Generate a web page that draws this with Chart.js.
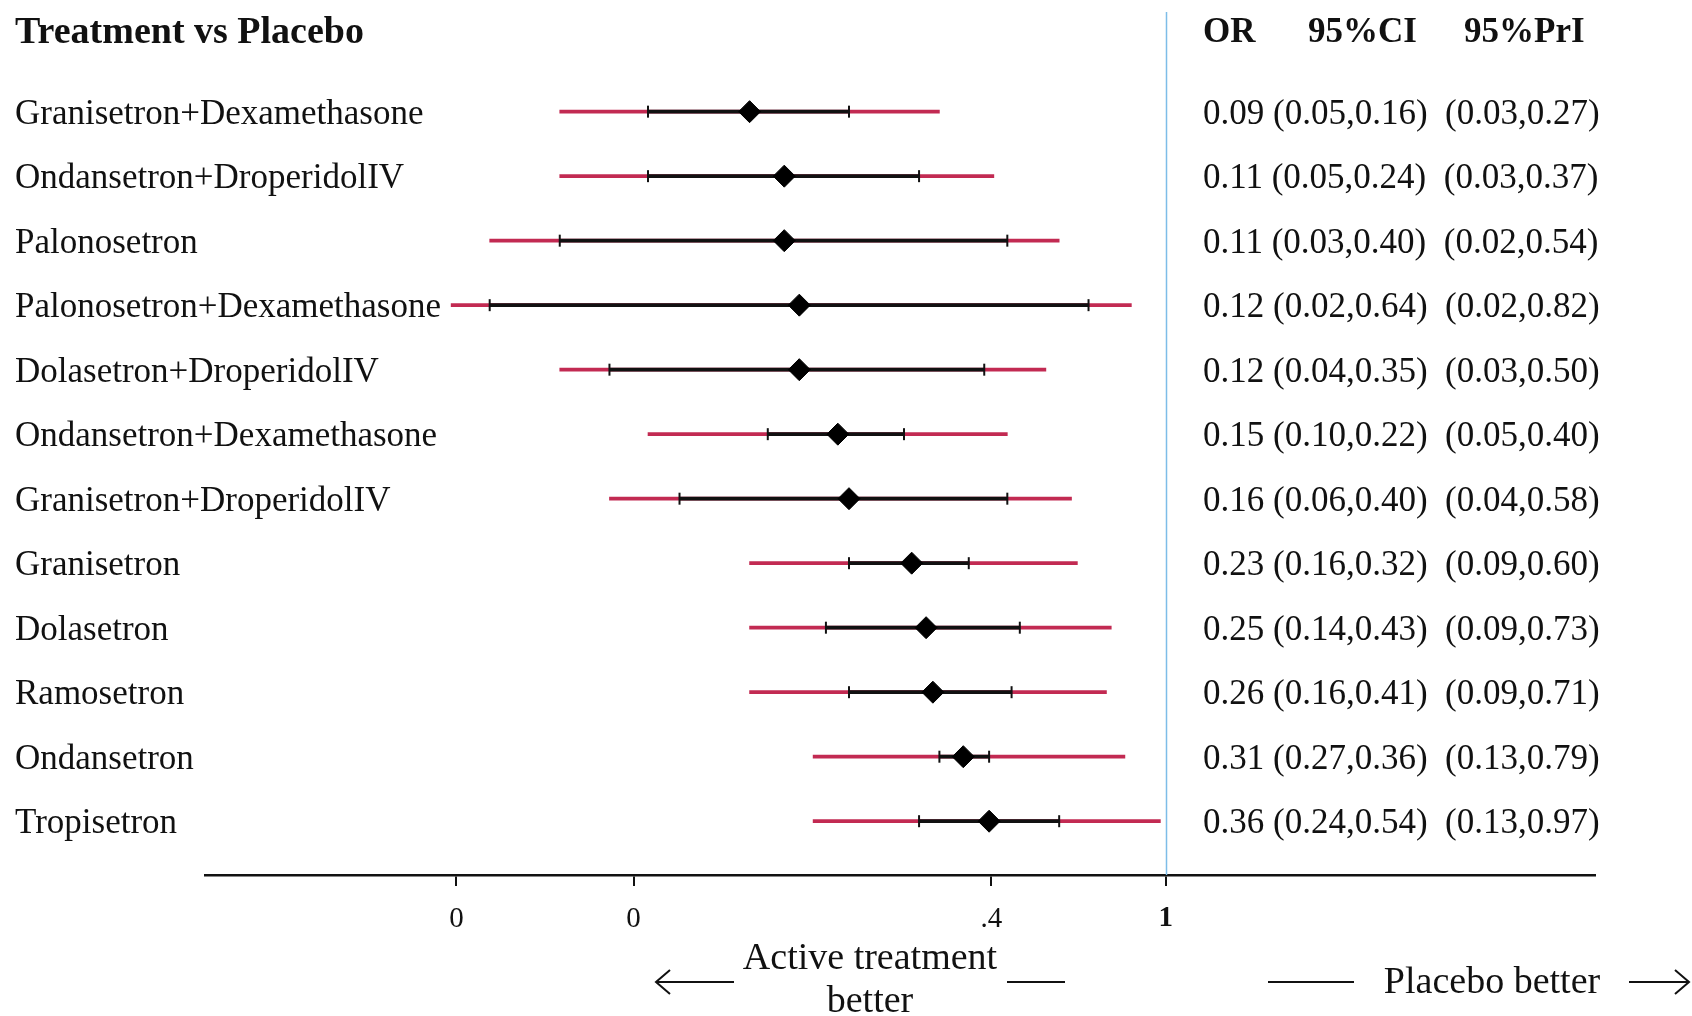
<!DOCTYPE html>
<html lang="en">
<head>
  <meta charset="UTF-8" />
  <title>Treatment vs Placebo</title>
  <style>
    body { margin: 0; background: #ffffff; }
    #chartCanvas { display: block; }
  </style>
</head>
<body>
  <canvas id="chartCanvas" width="1692" height="1016"></canvas>
  <script src="https://cdn.jsdelivr.net/npm/chart.js"></script>
  <script>
    const treatments = [
      'Granisetron+Dexamethasone', 'Ondansetron+DroperidolIV', 'Palonosetron',
      'Palonosetron+Dexamethasone', 'Dolasetron+DroperidolIV', 'Ondansetron+Dexamethasone',
      'Granisetron+DroperidolIV', 'Granisetron', 'Dolasetron', 'Ramosetron',
      'Ondansetron', 'Tropisetron'
    ];
    const oddsRatio = [0.09, 0.11, 0.11, 0.12, 0.12, 0.15, 0.16, 0.23, 0.25, 0.26, 0.31, 0.36];
    const ciLow   = [0.05, 0.05, 0.03, 0.02, 0.04, 0.10, 0.06, 0.16, 0.14, 0.16, 0.27, 0.24];
    const ciHigh  = [0.16, 0.24, 0.40, 0.64, 0.35, 0.22, 0.40, 0.32, 0.43, 0.41, 0.36, 0.54];
    const priLow  = [0.03, 0.03, 0.02, 0.016, 0.03, 0.05, 0.04, 0.09, 0.09, 0.09, 0.13, 0.13];
    const priHigh = [0.27, 0.37, 0.54, 0.82, 0.50, 0.40, 0.58, 0.60, 0.73, 0.71, 0.79, 0.97];

    const tickValues = [0.0165, 0.046, 0.365, 1];
    const tickLabels = ['0', '0', '.4', '1'];
    const refValue = 1;

    const SERIF = '"Liberation Serif", "DejaVu Serif", serif';
    const RED = '#c22a52';
    const INK = '#111111';

    const rows = treatments.map((_, i) => i);
    const fmt = v => v.toFixed(2);

    // labels, table text, tick labels, reference line and the "better" arrows
    const forestText = {
      id: 'forestText',
      beforeDatasetsDraw(chart) {
        const { ctx, chartArea, scales: { x } } = chart;
        const px = Math.round(x.getPixelForValue(refValue)) + 0.5;
        ctx.save();
        ctx.strokeStyle = '#7dbde8';
        ctx.lineWidth = 1.5;
        ctx.beginPath();
        ctx.moveTo(px, chartArea.top);
        ctx.lineTo(px, chartArea.bottom);
        ctx.stroke();
        ctx.restore();
      },
      afterDraw(chart) {
        const { ctx, chartArea, scales: { x, y } } = chart;
        ctx.save();
        ctx.fillStyle = INK;
        ctx.textBaseline = 'middle';
        ctx.textAlign = 'left';

        ctx.font = 'bold 38px ' + SERIF;
        ctx.fillText('Treatment vs Placebo', 15, 33);
        ctx.font = 'bold 35px ' + SERIF;
        ctx.fillText('OR', 1203, 33);
        ctx.fillText('95%CI', 1308, 33);
        ctx.fillText('95%PrI', 1464, 33);

        ctx.font = '35px ' + SERIF;
        rows.forEach(i => {
          const yy = y.getPixelForValue(i) + 3;
          ctx.fillText(treatments[i], 15, yy);
          const txt = fmt(oddsRatio[i]) + ' (' + fmt(ciLow[i]) + ',' + fmt(ciHigh[i]) + ')  (' +
            fmt(priLow[i]) + ',' + fmt(priHigh[i]) + ')';
          ctx.fillText(txt, 1203, yy);
        });

        // x tick labels
        ctx.textAlign = 'center';
        tickValues.forEach((v, i) => {
          ctx.font = (v === refValue ? 'bold ' : '') + '29px ' + SERIF;
          ctx.fillText(tickLabels[i], x.getPixelForValue(v), chartArea.bottom + 44);
        });

        // bottom captions
        ctx.font = '38px ' + SERIF;
        ctx.fillText('Active treatment', 870, 959);
        ctx.fillText('better', 870, 1002);
        ctx.fillText('Placebo better', 1492, 983);

        ctx.strokeStyle = INK;
        ctx.lineWidth = 2;
        const arrow = (x1, x2, yy, head) => {
          ctx.beginPath();
          ctx.moveTo(x1, yy);
          ctx.lineTo(x2, yy);
          if (head) {
            const d = head > 0 ? -1 : 1;
            const hx = head > 0 ? x2 : x1;
            ctx.moveTo(hx + d * 14, yy - 12);
            ctx.lineTo(hx, yy);
            ctx.lineTo(hx + d * 14, yy + 12);
          }
          ctx.stroke();
        };
        arrow(656, 734, 982, -1);
        arrow(1007, 1065, 982, 0);
        arrow(1268, 1354, 982, 0);
        arrow(1629, 1689, 982, 1);
        ctx.restore();
      }
    };

    const ctx = document.getElementById('chartCanvas').getContext('2d');
    new Chart(ctx, {
      type: 'bar',
      data: {
        datasets: [
          {
            label: '95%PrI',
            indexAxis: 'y',
            data: rows.map(i => ({ x: [priLow[i], priHigh[i]], y: i })),
            backgroundColor: RED,
            barThickness: 3,
            grouped: false,
            order: 4
          },
          {
            label: '95%CI',
            indexAxis: 'y',
            data: rows.map(i => ({ x: [ciLow[i], ciHigh[i]], y: i })),
            backgroundColor: INK,
            barThickness: 3,
            grouped: false,
            order: 3
          },
          {
            label: 'CI ends',
            type: 'scatter',
            data: rows.flatMap(i => [{ x: ciLow[i], y: i }, { x: ciHigh[i], y: i }]),
            pointStyle: 'line',
            rotation: 90,
            radius: 6,
            borderWidth: 2,
            borderColor: INK,
            order: 2
          },
          {
            label: 'OR',
            type: 'scatter',
            data: rows.map(i => ({ x: oddsRatio[i], y: i })),
            pointStyle: 'rectRot',
            radius: 11,
            backgroundColor: '#000000',
            borderColor: '#000000',
            borderWidth: 1,
            order: 1
          }
        ]
      },
      options: {
        responsive: false,
        animation: false,
        indexAxis: 'y',
        layout: { padding: { left: 205, right: 97, top: 9, bottom: 0 } },
        plugins: { legend: { display: false }, tooltip: { enabled: false } },
        scales: {
          x: {
            type: 'logarithmic',
            min: 0.00385,
            max: 12,
            offset: false,
            afterBuildTicks: scale => { scale.ticks = tickValues.map(v => ({ value: v })); },
            afterFit: scale => { scale.height = 141; },
            grid: {
              offset: false,
              drawOnChartArea: false,
              drawTicks: true,
              tickLength: 11,
              color: INK,
              lineWidth: 2
            },
            border: { display: true, color: INK, width: 2.5 },
            ticks: { display: false, autoSkip: false }
          },
          y: {
            type: 'linear',
            reverse: true,
            min: -1.545,
            max: 11.834,
            offset: false,
            display: false
          }
        }
      },
      plugins: [forestText]
    });
  </script>
</body>
</html>
